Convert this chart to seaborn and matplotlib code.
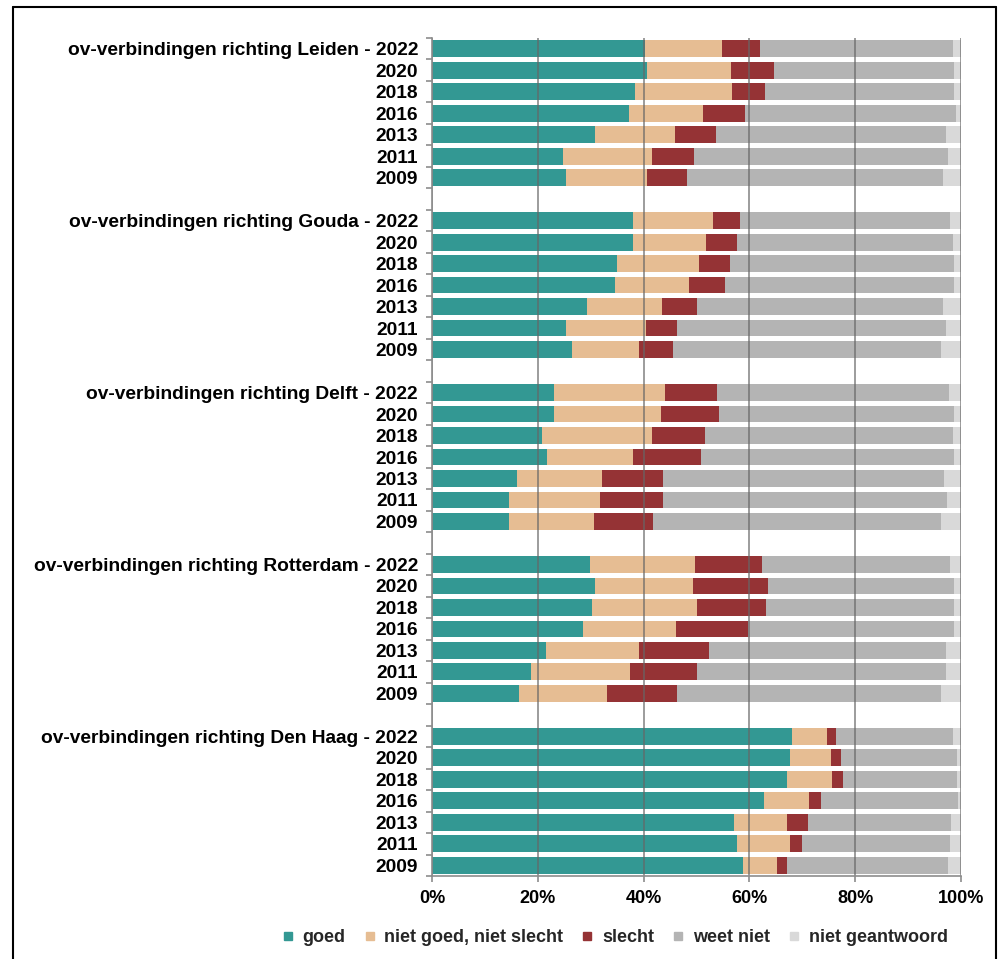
import numpy as np
import pandas as pd
import matplotlib
matplotlib.use("Agg")
import matplotlib.pyplot as plt
from matplotlib.lines import Line2D
import seaborn as sns

# Answer categories and their colours
categories = ["goed", "niet goed, niet slecht", "slecht", "weet niet", "niet geantwoord"]
colors = ["#339893", "#E6BD93", "#953335", "#B4B4B4", "#D9D9D9"]

destinations = ["Leiden", "Gouda", "Delft", "Rotterdam", "Den Haag"]
years = ["2022", "2020", "2018", "2016", "2013", "2011", "2009"]

# Percentages per row: 7 survey years for each destination, in the order above
goed = [
    40.2, 40.6, 38.3, 37.2, 30.8, 24.7, 25.3,   # Leiden
    38.0, 38.0, 34.9, 34.5, 29.3, 25.3, 26.4,   # Gouda
    23.0, 23.0, 20.8, 21.8, 16.1, 14.5, 14.6,   # Delft
    29.8, 30.8, 30.2, 28.6, 21.5, 18.8, 16.4,   # Rotterdam
    68.1, 67.6, 67.1, 62.8, 57.1, 57.6, 58.7,   # Den Haag
]
niet_goed_niet_slecht = [
    14.7, 16.0, 18.5, 14.1, 15.1, 16.9, 15.4,
    15.2, 13.8, 15.6, 14.1, 14.1, 15.1, 12.7,
    21.1, 20.2, 20.8, 16.2, 16.1, 17.3, 16.1,
    20.0, 18.6, 19.9, 17.5, 17.6, 18.6, 16.6,
    6.5, 7.9, 8.6, 8.5, 10.1, 10.0, 6.6,
]
slecht = [
    7.1, 8.1, 6.2, 7.8, 7.7, 7.9, 7.5,
    5.1, 5.8, 5.9, 6.8, 6.7, 6.0, 6.4,
    9.8, 11.0, 10.1, 12.9, 11.5, 11.9, 11.1,
    12.6, 14.2, 13.0, 13.7, 13.3, 12.7, 13.4,
    1.8, 1.8, 2.0, 2.3, 3.9, 2.3, 1.9,
]
weet_niet = [
    36.4, 33.9, 35.6, 39.9, 43.6, 48.1, 48.4,
    39.7, 40.8, 42.2, 43.2, 46.5, 50.8, 50.8,
    43.9, 44.5, 46.7, 47.8, 53.1, 53.7, 54.5,
    35.6, 35.0, 35.5, 38.8, 44.7, 47.0, 49.9,
    22.0, 21.9, 21.5, 25.8, 27.1, 28.1, 30.4,
]
niet_geantwoord = [
    1.6, 1.4, 1.4, 1.0, 2.8, 2.4, 3.4,
    2.0, 1.6, 1.4, 1.4, 3.4, 2.8, 3.7,
    2.2, 1.3, 1.6, 1.3, 3.2, 2.6, 3.7,
    2.0, 1.4, 1.4, 1.4, 2.9, 2.9, 3.7,
    1.6, 0.8, 0.8, 0.6, 1.8, 2.0, 2.4,
]

# Row keys (with an empty row between destinations) and their tick labels
order, labels, keys = [], [], []
for gi, dest in enumerate(destinations):
    if gi > 0:
        order.append(f"gap{gi}")
        labels.append("")
    for yi, yr in enumerate(years):
        key = f"{dest}|{yr}"
        order.append(key)
        keys.append(key)
        labels.append(f"ov-verbindingen richting {dest} - {yr}" if yi == 0 else yr)

values = np.array([goed, niet_goed_niet_slecht, slecht, weet_niet, niet_geantwoord]).T
cum = np.cumsum(values, axis=1)
df = pd.DataFrame({"row": keys})
for k in range(len(categories)):
    df[f"cum{k}"] = cum[:, k]

sns.set_theme(style="white")
plt.rcParams["font.family"] = ["Liberation Sans", "DejaVu Sans"]
plt.rcParams["font.weight"] = "bold"

fig = plt.figure(figsize=(9.98, 9.59), dpi=100)
ax = fig.add_axes([432 / 998, 1 - 876 / 959, (961 - 432) / 998, (876 - 38) / 959])

# Stacked bars: draw cumulative totals from the outermost segment inwards
for k in reversed(range(len(categories))):
    sns.barplot(data=df, x=f"cum{k}", y="row", order=order, orient="h",
                color=colors[k], saturation=1, width=0.78, errorbar=None,
                linewidth=0, ax=ax)

ax.set_xlim(0, 100)
ax.set_ylim(len(order) - 0.5, -0.5)
ax.set_xlabel("")
ax.set_ylabel("")

ax.set_xticks(np.arange(0, 101, 20))
ax.set_xticklabels([f"{v}%" for v in range(0, 101, 20)], fontsize=13, fontweight="bold")
ax.set_yticks(np.arange(len(order)))
ax.set_yticklabels(labels, fontsize=13.8, fontweight="bold")
ax.set_yticks(np.arange(-0.5, len(order)), minor=True)

axis_grey = "#8C8C8C"
ax.tick_params(axis="y", which="major", length=0, pad=10, colors="black")
ax.tick_params(axis="y", which="minor", length=4, width=1.2, color=axis_grey, left=True)
ax.tick_params(axis="x", which="major", length=4, width=1.2, color=axis_grey,
               bottom=True, pad=6, labelcolor="black")

ax.set_axisbelow(False)
ax.grid(axis="x", color="#666666", alpha=0.7, linewidth=1.3)
ax.grid(axis="y", visible=False)

for side in ["top", "right"]:
    ax.spines[side].set_visible(False)
for side in ["left", "bottom"]:
    ax.spines[side].set_color(axis_grey)
    ax.spines[side].set_linewidth(1.2)
    ax.spines[side].set_zorder(3)

# Legend with small square markers
handles = [Line2D([0], [0], marker="s", linestyle="none", markersize=6,
                  markerfacecolor=c, markeredgecolor=c) for c in colors]
fig.legend(handles, categories, loc="center", ncol=5, frameon=False,
           bbox_to_anchor=(615 / 998, 1 - 938 / 959),
           prop={"size": 13, "weight": "bold"},
           handlelength=0.6, handletextpad=0.5, columnspacing=1.05)

# Frame around the figure (left, top, right)
frame_kw = dict(color="black", linewidth=1.5, transform=fig.transFigure)
fig.add_artist(Line2D([13 / 998, 13 / 998], [0, 1 - 7 / 959], **frame_kw))
fig.add_artist(Line2D([13 / 998, 996 / 998], [1 - 7 / 959, 1 - 7 / 959], **frame_kw))
fig.add_artist(Line2D([996 / 998, 996 / 998], [0, 1 - 7 / 959], **frame_kw))

fig.savefig("out.png", dpi=100, facecolor="white")
